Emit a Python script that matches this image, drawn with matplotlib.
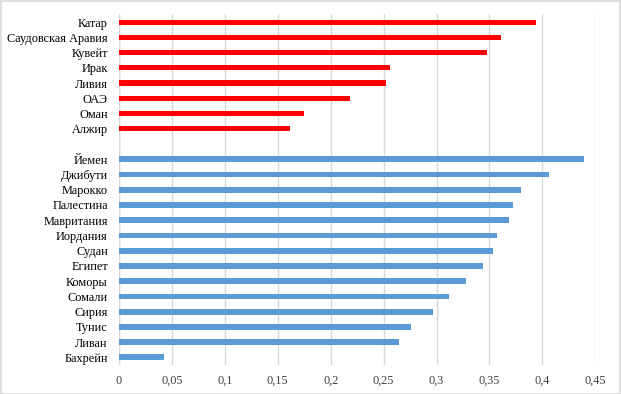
import numpy as np
import matplotlib.pyplot as plt
from matplotlib.patches import Rectangle

plt.rcParams['font.family'] = ['Liberation Serif', 'DejaVu Serif']

# top group (red) and bottom group (blue), top to bottom
red_countries = ["Катар", "Саудовская Аравия", "Кувейт", "Ирак", "Ливия", "ОАЭ", "Оман", "Алжир"]
red_values = [0.394, 0.361, 0.348, 0.256, 0.252, 0.218, 0.175, 0.162]

blue_countries = ["Йемен", "Джибути", "Марокко", "Палестина", "Мавритания", "Иордания", "Судан",
                  "Египет", "Коморы", "Сомали", "Сирия", "Тунис", "Ливан", "Бахрейн"]
blue_values = [0.439, 0.406, 0.380, 0.372, 0.368, 0.357, 0.353,
               0.344, 0.328, 0.312, 0.297, 0.276, 0.265, 0.0425]

x_ticks = [0, 0.05, 0.1, 0.15, 0.2, 0.25, 0.3, 0.35, 0.4, 0.45]
x_tick_labels = ["0", "0,05", "0,1", "0,15", "0,2", "0,25", "0,3", "0,35", "0,4", "0,45"]

fig = plt.figure(figsize=(6.21, 3.94), dpi=100)
W, H = 621, 394
ax = fig.add_axes([119 / W, 1 - 365 / H, (595.3 - 119) / W, (365 - 14.5) / H])

n_slots = len(red_countries) + 1 + len(blue_countries)
red_pos = np.arange(len(red_countries))
blue_pos = np.arange(len(blue_countries)) + len(red_countries) + 1

ax.barh(red_pos, red_values, height=0.34, color="#FF0000", zorder=3)
ax.barh(blue_pos, blue_values, height=0.38, color="#5B9BD5", zorder=3)

ax.set_yticks(list(red_pos) + list(blue_pos))
ax.set_yticklabels(red_countries + blue_countries, fontsize=8.8)
ax.set_ylim(n_slots - 0.5, -0.5)

ax.set_xlim(0, 0.45)
ax.set_xticks(x_ticks)
ax.set_xticklabels(x_tick_labels, fontsize=8.8)
ax.tick_params(axis="y", length=0, pad=8, colors="#000000")
ax.tick_params(axis="x", length=0, pad=7, colors="#404040")

ax.grid(axis="x", color="#d9d9d9", linewidth=1, zorder=0)
for s in ax.spines.values():
    s.set_visible(False)
ax.axvline(0, color="#d9d9d9", linewidth=1, zorder=1)

# chart border
fig.patches.append(Rectangle((0.5 / W, 0.5 / H), 1 - 1.5 / W, 1 - 1.5 / H, transform=fig.transFigure,
                             fill=False, edgecolor="#d9d9d9", linewidth=1.2))

fig.savefig("out.png", dpi=100)
